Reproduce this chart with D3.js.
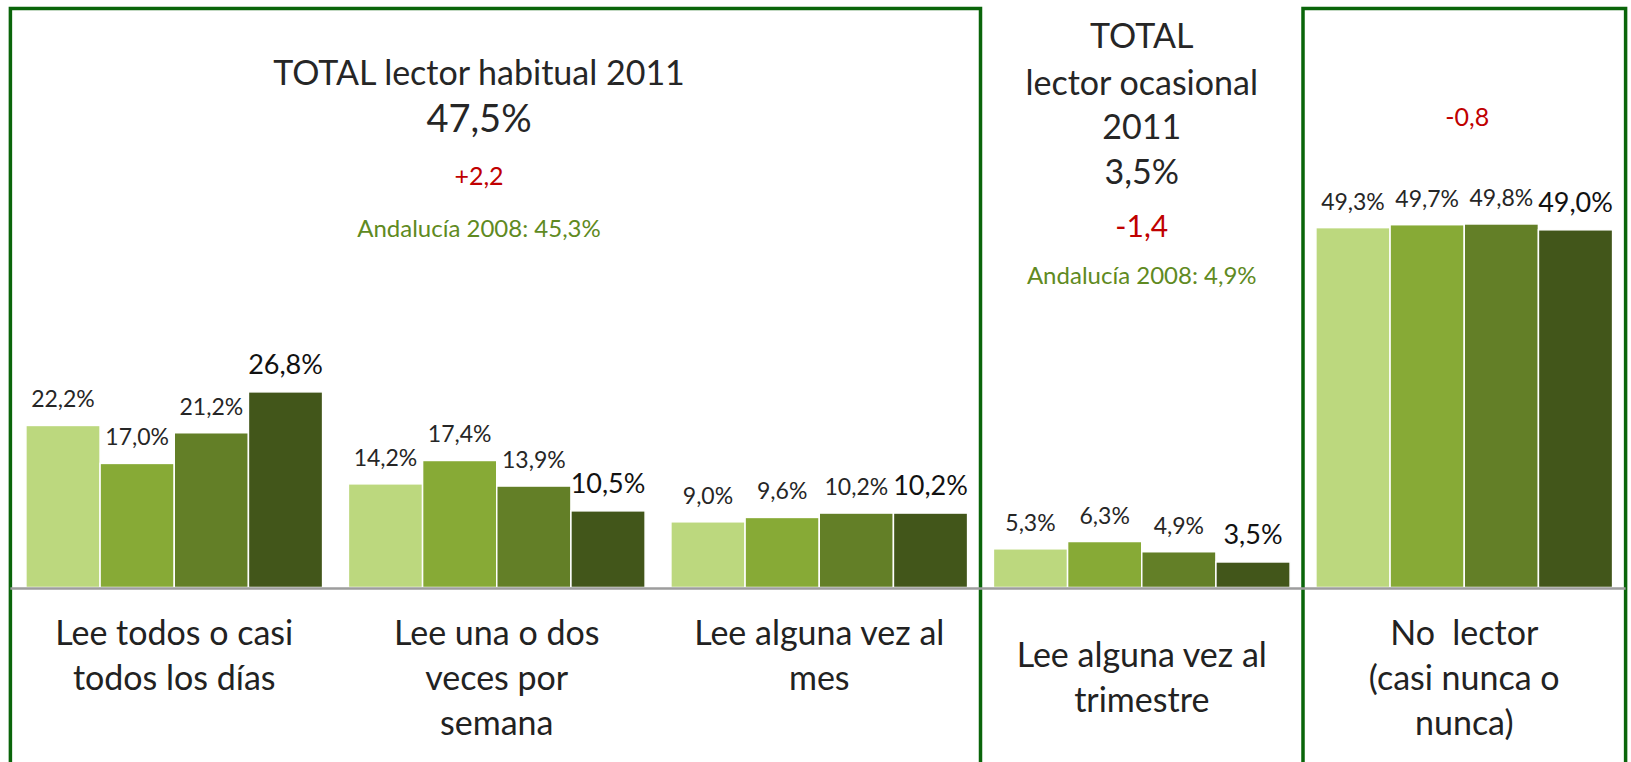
<!DOCTYPE html>
<html>
<head>
<meta charset="utf-8">
<script src="https://cdn.jsdelivr.net/npm/d3@7"></script>
<style>
  body { margin: 0; background: #fff; }
  svg { display: block; font-family: Lato, "Open Sans", sans-serif; }
  text { white-space: pre; }
</style>
</head>
<body>
<svg id="chart" width="1631" height="762"></svg>
<script>
// categories (one label line per entry)
var categories = ["diario", "semanal", "mensual", "trimestral", "nolector"];
var catLines = [
  ["Lee todos o casi", "todos los días"],
  ["Lee una o dos", "veces por", "semana"],
  ["Lee alguna vez al", "mes"],
  ["Lee alguna vez al", "trimestre"],
  ["No  lector", "(casi nunca o", "nunca)"]
];
var series = ["s1", "s2", "s3", "s4"];
var s1 = [22.2, 14.2, 9.0, 5.3, 49.3];
var s2 = [17.0, 17.4, 9.6, 6.3, 49.7];
var s3 = [21.2, 13.9, 10.2, 4.9, 49.8];
var s4 = [26.8, 10.5, 10.2, 3.5, 49.0];
var colors = ["#bcd87e", "#87aa36", "#637f27", "#42561a"];

var values = [s1, s2, s3, s4];

var svg = d3.select("#chart"),
	BASE = 587.5;

//scales
var x = d3.scaleBand().domain(categories).range([13, 1625.5]).paddingInner(0.08).paddingOuter(0.04);
var xs = d3.scaleBand().domain(series).range([0, x.bandwidth()]);
var y = d3.scaleLinear().domain([0, 50]).range([BASE, BASE - 365]);

var gap = x.step() * 0.08 / 2;

//frames
var frameColor = "#0a650a";
var f1l = x(categories[0]) - 15.5,
	f1r = x(categories[2]) + x.bandwidth() + gap,
	f2l = x(categories[4]) - gap,
	f2r = x(categories[4]) + x.bandwidth() + 13;

svg.append("rect").attr("x", f1l).attr("y", 8.5).attr("width", f1r - f1l).attr("height", 800)
	.attr("fill", "none").attr("stroke", frameColor).attr("stroke-width", 3.5);
svg.append("rect").attr("x", f2l).attr("y", 8.5).attr("width", f2r - f2l).attr("height", 800)
	.attr("fill", "none").attr("stroke", frameColor).attr("stroke-width", 3.5);

//bars
var groups = svg.selectAll("g.grp").data(categories).enter().append("g")
	.attr("class", "grp")
	.attr("transform", function(d) { return "translate(" + x(d) + ",0)"; });

groups.each(function(c, ci) {
	var g = d3.select(this);
	series.forEach(function(s, si) {
		var v = values[si][ci];
		g.append("rect")
			.attr("x", xs(s))
			.attr("y", y(v))
			.attr("width", xs.bandwidth())
			.attr("height", BASE - y(v))
			.attr("fill", colors[si])
			.attr("stroke", "#fff")
			.attr("stroke-width", 1.5);
		var last = si === series.length - 1;
		g.append("text")
			.attr("x", xs(s) + xs.bandwidth() / 2)
			.attr("y", y(v) - 18)
			.attr("text-anchor", "middle")
			.attr("font-size", last ? 27 : 23)
			.attr("fill", last ? "#111" : "#262626")
			.text(d3.format(".1f")(v).replace(".", ",") + "%");
	});
});

//baseline
svg.append("line").attr("x1", f1l).attr("x2", f2r).attr("y1", BASE + 1).attr("y2", BASE + 1)
	.attr("stroke", "#9d9d9d").attr("stroke-width", 2.5);

//category labels
groups.each(function(c, ci) {
	var dy = ci === 3 ? 22 : 0;
	d3.select(this).selectAll("text.cat").data(catLines[ci]).enter().append("text")
		.attr("class", "cat")
		.attr("x", x.bandwidth() / 2)
		.attr("y", function(d, i) { return 645 + dy + i * 45; })
		.attr("text-anchor", "middle")
		.attr("font-size", 34)
		.attr("fill", "#222")
		.text(function(d) { return d; });
});

//annotations
function note(cx, cy, txt, size, col) {
	svg.append("text").attr("x", cx).attr("y", cy).attr("text-anchor", "middle")
		.attr("font-size", size).attr("fill", col).text(txt);
}
var dark = "#262626", red = "#c00000", olive = "#5f8a22";
note(479, 85, "TOTAL lector habitual 2011", 34, dark);
note(479, 132, "47,5%", 38, dark);
note(479, 185, "+2,2", 25, red);
note(479, 237, "Andalucía 2008: 45,3%", 24, olive);

var mx = x(categories[3]) + x.bandwidth() / 2;
note(mx, 48, "TOTAL", 34, dark);
note(mx, 95, "lector ocasional", 34, dark);
note(mx, 139, "2011", 34, dark);
note(mx, 184, "3,5%", 34, dark);
note(mx, 237, "-1,4", 30, red);
note(mx, 284, "Andalucía 2008: 4,9%", 24, olive);

note(x(categories[4]) + x.bandwidth() / 2 + 3, 126, "-0,8", 25, red);
</script>
</body>
</html>
